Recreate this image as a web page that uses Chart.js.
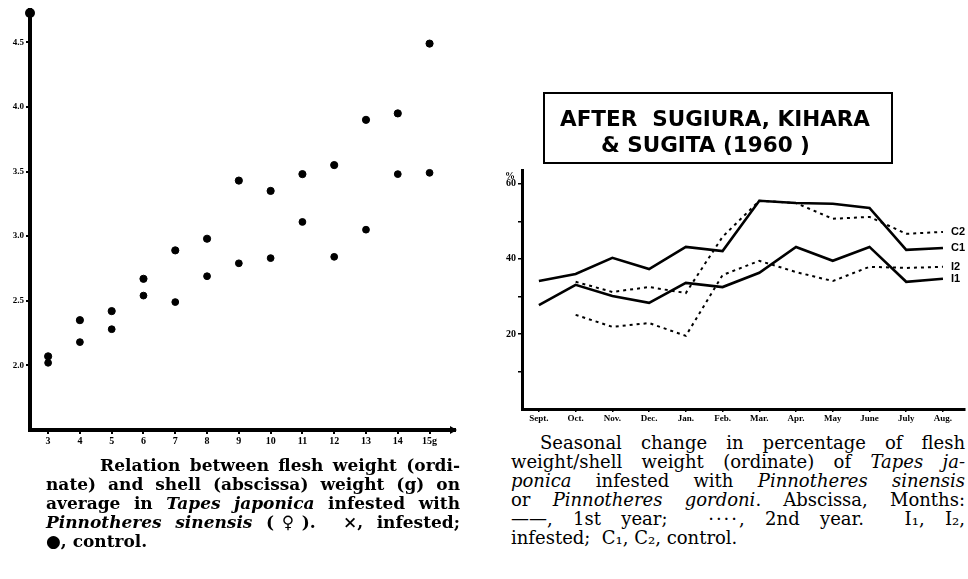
<!DOCTYPE html>
<html>
<head>
<meta charset="utf-8">
<script src="https://cdn.jsdelivr.net/npm/chart.js@4.4.1/dist/chart.umd.min.js"></script>
<style>
  body { margin: 0; background: #fff; width: 968px; height: 579px; position: relative; overflow: hidden; }
  canvas { position: absolute; }
  #leftChart { left: 0; top: 0; }
  #rightChart { left: 480px; top: 160px; }
  .cap { position: absolute; font-family: 'DejaVu Serif', serif; line-height: 19px; color: #000; }
  .cap div { white-space: nowrap; }
  .cap .j { text-align: justify; text-align-last: justify; white-space: normal; }
  #capLeft { left: 46px; top: 456px; width: 414px; font-weight: bold; font-size: 17px; }
  #capRight { left: 511px; top: 433px; width: 454px; font-size: 18px; }
  #srcBox { position: absolute; left: 543px; top: 92px; width: 346px; height: 68px; border: 2px solid #000;
            font-family: 'DejaVu Sans', sans-serif; font-weight: bold; font-size: 21.5px; line-height: 25px; }
  #pct { position: absolute; left: 505px; top: 170px; font: bold 10px 'Liberation Serif', serif; }
</style>
</head>
<body>
<canvas id="leftChart" width="470" height="460"></canvas>
<canvas id="rightChart" width="488" height="270"></canvas>

<div id="srcBox">
  <div style="position:absolute;left:15px;top:12px;">AFTER&nbsp; SUGIURA, KIHARA</div>
  <div style="position:absolute;left:56px;top:38px;">&amp; SUGITA (1960 )</div>
</div>
<div id="pct">%</div>

<div class="cap" id="capLeft">
  <div class="j" style="margin-left:54px;">Relation between flesh weight (ordi-</div>
  <div class="j">nate) and shell (abscissa) weight (g) on</div>
  <div class="j">average in <i>Tapes japonica</i> infested with</div>
  <div class="j"><i>Pinnotheres sinensis</i> (♀). &nbsp;×, infested;</div>
  <div>●, control.</div>
</div>

<div class="cap" id="capRight">
  <div class="j" style="margin-left:29px;">Seasonal change in percentage of flesh</div>
  <div class="j">weight/shell weight (ordinate) of <i>Tapes ja-</i></div>
  <div class="j"><i>ponica</i> infested with <i>Pinnotheres sinensis</i></div>
  <div class="j">or <i>Pinnotheres gordoni</i>. Abscissa, Months:</div>
  <div class="j">——, 1st year; &nbsp;<span style="letter-spacing:2px">····</span>, 2nd year. &nbsp;I₁, I₂,</div>
  <div>infested;&nbsp; C₁, C₂, control.</div>
</div>

<script>
// left figure: flesh weight vs shell weight (g)
const shellWeight = [3, 4, 5, 6, 7, 8, 9, 10, 11, 12, 13, 14, 15];
const fleshControl = [2.07, 2.35, 2.42, 2.67, 2.89, 2.98, 3.43, 3.35, 3.48, 3.55, 3.90, 3.95, 4.49];
const fleshInfested = [2.02, 2.18, 2.28, 2.54, 2.49, 2.69, 2.79, 2.83, 3.11, 2.84, 3.05, 3.48, 3.49];
const leftYTicks = [2.0, 2.5, 3.0, 3.5, 4.0, 4.5];

// right figure: seasonal change in % flesh/shell weight
const months = ['Sept.', 'Oct.', 'Nov.', 'Dec.', 'Jan.', 'Feb.', 'Mar.', 'Apr.', 'May', 'June', 'July', 'Aug.'];
const c1 = [34.1, 36.0, 40.3, 37.3, 43.2, 42.1, 55.5, 54.9, 54.7, 53.6, 42.4, 42.9];
const i1 = [27.7, 33.1, 30.1, 28.3, 33.6, 32.5, 36.3, 43.2, 39.5, 43.2, 33.9, 34.7];
const c2 = [null, 33.9, 31.2, 32.5, 30.9, 45.9, 55.5, 54.9, 50.7, 51.2, 46.7, 47.2];
const i2 = [null, 25.1, 21.9, 22.9, 19.5, 35.7, 39.5, 36.5, 34.1, 37.9, 37.6, 37.9];
const rightYTicks = [10, 20, 30, 40, 50, 60];
const rightYLabels = [20, 40, 60];

const tickFont = { family: 'Liberation Serif', weight: 'bold', size: 9 };

// small arrow heads at the axis ends
const axisEnds = {
    id: 'axisEnds',
    afterDraw(chart) {
        const { ctx, chartArea } = chart;
        ctx.save();
        ctx.fillStyle = '#000';
        ctx.beginPath();
        ctx.arc(chartArea.left, chartArea.top + 3, 5, 0, Math.PI * 2);
        ctx.fill();
        ctx.beginPath();
        ctx.moveTo(chartArea.right + 2, chartArea.bottom);
        ctx.lineTo(chartArea.right - 5, chartArea.bottom - 4);
        ctx.lineTo(chartArea.right - 5, chartArea.bottom + 4);
        ctx.fill();
        ctx.restore();
    }
};

new Chart(document.getElementById('leftChart'), {
    type: 'scatter',
    data: {
        datasets: [{
            label: 'control',
            data: shellWeight.map((x, i) => ({ x: x, y: fleshControl[i] })),
            backgroundColor: '#000',
            borderColor: '#000',
            pointRadius: 3.6
        }, {
            label: 'infested',
            data: shellWeight.map((x, i) => ({ x: x, y: fleshInfested[i] })),
            backgroundColor: '#000',
            borderColor: '#000',
            pointRadius: 3.4
        }]
    },
    options: {
        responsive: false,
        animation: false,
        layout: { padding: { top: 10, right: 15, left: 0, bottom: 0 } },
        plugins: { legend: { display: false }, tooltip: { enabled: false } },
        scales: {
            x: {
                type: 'linear',
                min: 2.43,
                max: 15.8,
                afterBuildTicks: s => { s.ticks = shellWeight.map(v => ({ value: v })); },
                afterFit: s => { s.height = 30; },
                border: { color: '#000', width: 4 },
                grid: { drawOnChartArea: false, color: '#000', tickLength: 4, lineWidth: 2 },
                ticks: {
                    color: '#000', font: { ...tickFont, size: 10 }, padding: 1, maxRotation: 0,
                    callback: v => v === 15 ? '15g' : String(v)
                }
            },
            y: {
                min: 1.5,
                max: 4.75,
                afterBuildTicks: s => { s.ticks = leftYTicks.map(v => ({ value: v })); },
                afterFit: s => { s.width = 30; },
                border: { color: '#000', width: 4 },
                grid: { drawOnChartArea: false, color: '#000', tickLength: 4, lineWidth: 2 },
                ticks: { color: '#000', font: { ...tickFont, size: 9 }, padding: 2, callback: v => v.toFixed(1) }
            }
        }
    },
    plugins: [axisEnds]
});

// series names written at the right end of each line
const lineNames = {
    id: 'lineNames',
    afterDatasetsDraw(chart) {
        const { ctx } = chart;
        ctx.save();
        ctx.fillStyle = '#000';
        ctx.font = 'bold 11px "Liberation Sans"';
        ctx.textBaseline = 'middle';
        chart.data.datasets.forEach((ds, i) => {
            const pts = chart.getDatasetMeta(i).data;
            const last = pts[pts.length - 1];
            ctx.fillText(ds.label, last.x + 8, last.y);
        });
        ctx.restore();
    }
};

const lineStyle = (label, data, dashed) => ({
    label: label,
    data: data.map((v, i) => ({ x: i, y: v })),
    borderColor: '#000',
    borderWidth: dashed ? 2 : 2.6,
    borderDash: dashed ? [3, 4] : [],
    pointRadius: 0,
    fill: false,
    tension: 0
});

new Chart(document.getElementById('rightChart'), {
    type: 'line',
    data: {
        datasets: [
            lineStyle('C2', c2, true),
            lineStyle('C1', c1, false),
            lineStyle('I2', i2, true),
            lineStyle('I1', i1, false)
        ]
    },
    options: {
        responsive: false,
        animation: false,
        layout: { padding: { top: 10, right: 3, left: 0, bottom: 0 } },
        plugins: { legend: { display: false }, tooltip: { enabled: false } },
        scales: {
            x: {
                type: 'linear',
                min: -0.46,
                max: 11.6,
                afterBuildTicks: s => { s.ticks = months.map((m, i) => ({ value: i })); },
                afterFit: s => { s.height = 21; },
                border: { color: '#000', width: 3 },
                grid: { drawOnChartArea: false, color: '#000', tickLength: 3, lineWidth: 1.5 },
                ticks: {
                    color: '#000', font: { ...tickFont, size: 9 }, padding: 1, maxRotation: 0, autoSkip: false,
                    callback: v => months[v]
                }
            },
            y: {
                min: 0,
                max: 63.7,
                afterBuildTicks: s => { s.ticks = rightYTicks.map(v => ({ value: v })); },
                afterFit: s => { s.width = 42; },
                border: { color: '#000', width: 3 },
                grid: { drawOnChartArea: false, color: '#000', tickLength: 4, lineWidth: 1.5 },
                ticks: {
                    color: '#000', font: { ...tickFont, size: 10 }, padding: 2,
                    callback: v => rightYLabels.includes(v) ? String(v) : ''
                }
            }
        }
    },
    plugins: [lineNames]
});
</script>
</body>
</html>
